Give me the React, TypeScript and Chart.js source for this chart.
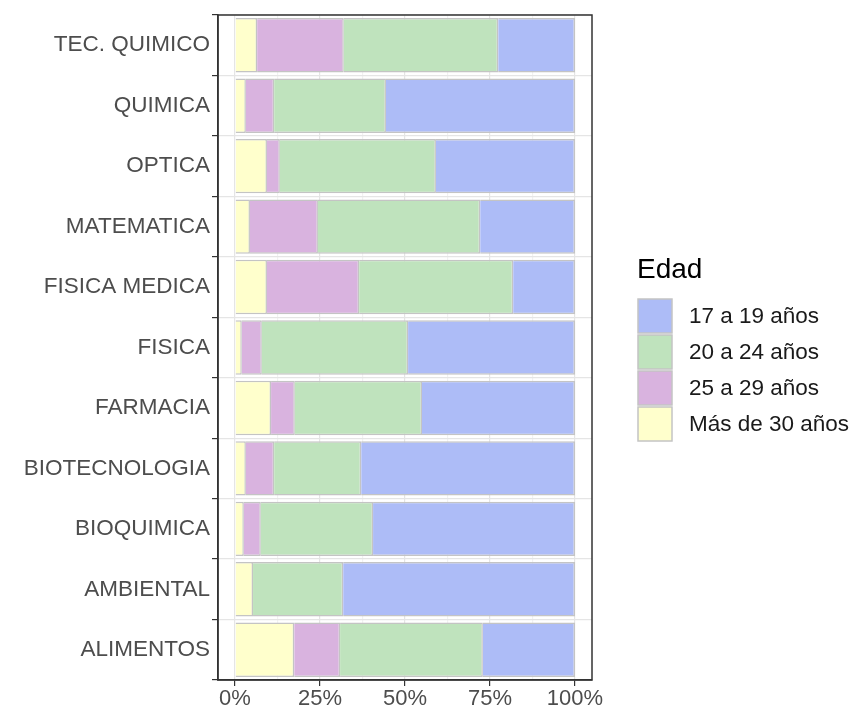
import { useEffect, useRef } from 'react';
import Chart from 'chart.js/auto';

const carreras = ['TEC. QUIMICO', 'QUIMICA', 'OPTICA', 'MATEMATICA', 'FISICA MEDICA', 'FISICA', 'FARMACIA', 'BIOTECNOLOGIA', 'BIOQUIMICA', 'AMBIENTAL', 'ALIMENTOS'];
const mas30 = [6.5, 3.2, 9.4, 4.4, 9.4, 2.0, 10.6, 3.2, 2.6, 5.3, 17.4];
const de25a29 = [25.5, 8.3, 3.8, 20.0, 27.1, 5.9, 7.0, 8.3, 5.0, 0, 13.5];
const de20a24 = [45.4, 32.9, 45.9, 47.7, 45.3, 43.0, 37.4, 25.6, 33.0, 26.5, 42.0];
const de17a19 = [22.6, 55.6, 40.9, 27.9, 18.2, 49.1, 45.0, 62.9, 59.4, 68.2, 27.1];
const xTicks = [0, 25, 50, 75, 100];
const FONT = 'Liberation Sans';

const App = () => {
  const ref = useRef<HTMLCanvasElement>(null);

  useEffect(() => {
    if (!ref.current) return;
    const ds = (label: string, data: number[], color: string) => ({
      label, data, backgroundColor: color, borderColor: '#c4c4c4', borderWidth: 1.5,
      barPercentage: 0.9, categoryPercentage: 1,
    });
    const chart = new Chart(ref.current, {
      type: 'bar',
      data: {
        labels: carreras,
        datasets: [
          ds('Más de 30 años', mas30, '#ffffcc'),
          ds('25 a 29 años', de25a29, '#d9b3df'),
          ds('20 a 24 años', de20a24, '#bfe3bd'),
          ds('17 a 19 años', de17a19, '#adbcf7'),
        ],
      },
      options: {
        indexAxis: 'y',
        animation: false,
        responsive: true,
        maintainAspectRatio: false,
        layout: { padding: { top: 7, bottom: 0, right: 259, left: 0 } },
        plugins: { tooltip: { enabled: false }, legend: { display: false } },
        scales: {
          x: {
            stacked: true, min: -5, max: 105,
            afterFit: (s: any) => { s.height = 30; s.paddingLeft = 0; s.paddingRight = 0; },
            afterBuildTicks: (s: any) => { s.ticks = [...xTicks, 12.5, 37.5, 62.5, 87.5].map(v => ({ value: v })); },
            ticks: {
              color: '#4d4d4d', font: { size: 22, family: FONT }, padding: 0, maxRotation: 0, autoSkip: false,
              callback: (v: any) => (Number(v) % 25 === 0 ? v + '%' : ''),
            },
            grid: {
              color: (c: any) => (c.tick && c.tick.value % 25 === 0 ? '#e5e5e5' : '#f2f2f2'),
              tickColor: (c: any) => (c.tick && c.tick.value % 25 === 0 ? '#333' : 'rgba(0,0,0,0)'),
              tickLength: 6, lineWidth: 1.2,
            },
            border: { color: '#333', width: 1.5 },
          },
          y: {
            stacked: true,
            afterFit: (s: any) => { s.width = 210; s.paddingTop = 0; s.paddingBottom = 0; },
            ticks: { color: '#4d4d4d', font: { size: 22.5, family: FONT }, padding: 2, autoSkip: false },
            grid: { color: '#e5e5e5', tickColor: '#333', tickLength: 6, lineWidth: 1.2 },
            border: { color: '#333', width: 1.5 },
          },
        },
      },
      plugins: [{
        id: 'frameAndLegend',
        afterDraw: (c: any) => {
          const { left, right, top, bottom } = c.chartArea;
          const ctx = c.ctx;
          ctx.save();
          ctx.strokeStyle = '#333'; ctx.lineWidth = 1.5;
          ctx.strokeRect(left, top, right - left, bottom - top);
          const lx = right + 45;
          ctx.fillStyle = '#000';
          ctx.font = `28px ${FONT}`;
          ctx.textBaseline = 'middle';
          ctx.textAlign = 'left';
          ctx.fillText('Edad', lx, 262);
          const items = [...c.data.datasets].reverse();
          items.forEach((d: any, i: number) => {
            const cy = 308 + i * 36;
            ctx.fillStyle = d.backgroundColor;
            ctx.fillRect(lx + 1, cy - 17, 34, 34);
            ctx.strokeStyle = '#c4c4c4'; ctx.lineWidth = 1.5;
            ctx.strokeRect(lx + 1, cy - 17, 34, 34);
            ctx.fillStyle = '#1a1a1a';
            ctx.font = `22.5px ${FONT}`;
            ctx.fillText(d.label, lx + 52, cy + 1);
          });
          ctx.restore();
        },
      }],
    });
    return () => chart.destroy();
  }, []);

  return (
    <div style={{ width: 843, height: 702 }}>
      <canvas ref={ref}></canvas>
    </div>
  );
};

export default App;
